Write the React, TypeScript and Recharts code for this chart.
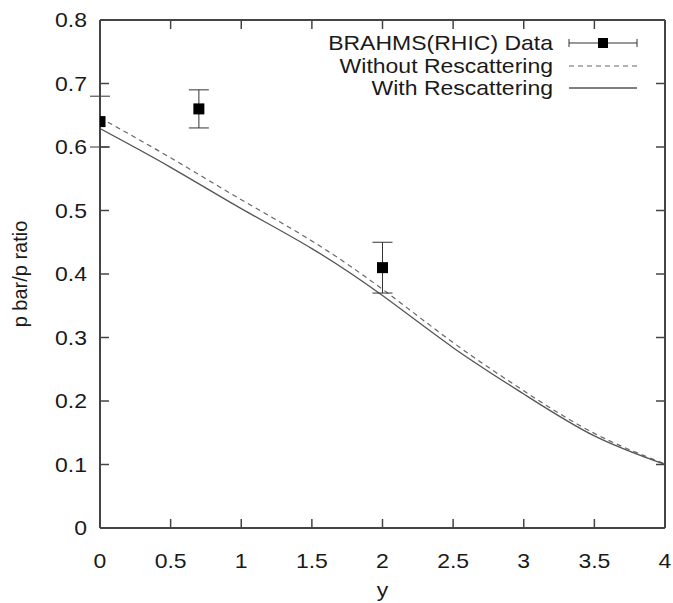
import React from "react";
import { ComposedChart, Line, Scatter, ErrorBar, XAxis, YAxis, Legend } from "recharts";

const xTicks = [0, 0.5, 1, 1.5, 2, 2.5, 3, 3.5, 4];
const yTicks = [0, 0.1, 0.2, 0.3, 0.4, 0.5, 0.6, 0.7, 0.8];

const curveY = [0, 0.5, 1, 1.5, 2, 2.5, 3, 3.5, 4];
const withoutRescattering = [0.646, 0.583, 0.517, 0.452, 0.376, 0.292, 0.216, 0.149, 0.101];
const withRescattering = [0.629, 0.568, 0.503, 0.44, 0.366, 0.284, 0.211, 0.145, 0.1];

// BRAHMS points with their errors
const brahmsY = [0, 0.7, 2];
const brahmsRatio = [0.64, 0.66, 0.41];
const brahmsErr = [0.04, 0.03, 0.04];

const withoutData = curveY.map((x, i) => ({ x, v: withoutRescattering[i] }));
const withData = curveY.map((x, i) => ({ x, v: withRescattering[i] }));
const brahmsData = brahmsY.map((x, i) => ({ x, v: brahmsRatio[i], err: brahmsErr[i] }));

const FRAME = "#444";
const INK = "#1a1a1a";
const FONT = "'Liberation Sans', Arial, sans-serif";
const SX = 1.15;
const TICK = 9;

const SText = ({ x, y, anchor, children, size = 20 }: any) => (
  <text
    transform={`translate(${x},${y}) scale(${SX},1)`}
    textAnchor={anchor}
    fontFamily={FONT}
    fontSize={size}
    fill={INK}
  >
    {children}
  </text>
);

const BottomTick = ({ x, y, payload }: any) => (
  <g>
    <line x1={x} y1={y} x2={x} y2={y - TICK} stroke={FRAME} strokeWidth={1.5} />
    <SText x={x} y={y + 40} anchor="middle">{String(payload.value)}</SText>
  </g>
);

const TopTick = ({ x, y }: any) => (
  <line x1={x} y1={y} x2={x} y2={y + TICK} stroke={FRAME} strokeWidth={1.5} />
);

const LeftTick = ({ x, y, payload }: any) => (
  <g>
    <line x1={x} y1={y} x2={x + TICK} y2={y} stroke={FRAME} strokeWidth={1.5} />
    <SText x={x - 13} y={y + 7} anchor="end">{String(payload.value)}</SText>
  </g>
);

const RightTick = ({ x, y }: any) => (
  <line x1={x} y1={y} x2={x - TICK} y2={y} stroke={FRAME} strokeWidth={1.5} />
);

const Square = ({ cx, cy }: any) => (
  <rect x={cx - 5.5} y={cy - 5.5} width={11} height={11} fill="#000" />
);

const KeyBox = () => {
  const tx = 553;
  const x1 = 569;
  const x2 = 637;
  const rows = [43, 66, 88];
  return (
    <svg width={673} height={110} style={{ display: "block" }}>
      <SText x={tx} y={rows[0] + 7} anchor="end">BRAHMS(RHIC) Data</SText>
      <SText x={tx} y={rows[1] + 7} anchor="end">Without Rescattering</SText>
      <SText x={tx} y={rows[2] + 7} anchor="end">With Rescattering</SText>
      <line x1={x1} y1={rows[0]} x2={x2} y2={rows[0]} stroke="#333" strokeWidth={1} />
      <line x1={x1} y1={rows[0] - 4} x2={x1} y2={rows[0] + 4} stroke="#333" strokeWidth={1} />
      <line x1={x2} y1={rows[0] - 4} x2={x2} y2={rows[0] + 4} stroke="#333" strokeWidth={1} />
      <rect x={(x1 + x2) / 2 - 5} y={rows[0] - 5} width={10} height={10} fill="#000" />
      <line x1={x1} y1={rows[1]} x2={x2} y2={rows[1]} stroke="#666" strokeWidth={1.2} strokeDasharray="5 4" />
      <line x1={x1} y1={rows[2]} x2={x2} y2={rows[2]} stroke="#555" strokeWidth={1.3} />
    </svg>
  );
};

const YLabel = ({ viewBox }: any) => {
  const cx = viewBox.x + 27;
  const cy = viewBox.y + viewBox.height / 2;
  return (
    <text
      transform={`translate(${cx},${cy}) rotate(-90)`}
      textAnchor="middle"
      fontFamily={FONT}
      fontSize={20}
      fill={INK}
    >
      p bar/p ratio
    </text>
  );
};

const XLabel = ({ viewBox }: any) => (
  <SText x={viewBox.x + viewBox.width / 2} y={viewBox.y + 69} anchor="middle">y</SText>
);

export default function App() {
  return (
    <div style={{ position: "absolute", left: 0, top: 0, background: "#fff" }}>
      <ComposedChart width={673} height={603} margin={{ top: 0, right: 0, bottom: 0, left: 0 }}>
        <XAxis
          xAxisId="b"
          type="number"
          dataKey="x"
          domain={[0, 4]}
          ticks={xTicks}
          interval={0}
          height={75}
          tickSize={0}
          tickMargin={0}
          tickLine={false}
          tick={<BottomTick />}
          axisLine={{ stroke: FRAME, strokeWidth: 2 }}
          allowDataOverflow
          label={<XLabel />}
        />
        <XAxis
          xAxisId="t"
          orientation="top"
          type="number"
          dataKey="x"
          domain={[0, 4]}
          ticks={xTicks}
          interval={0}
          height={20}
          tickSize={0}
          tickMargin={0}
          tickLine={false}
          tick={<TopTick />}
          axisLine={{ stroke: FRAME, strokeWidth: 2 }}
          allowDataOverflow
        />
        <YAxis
          yAxisId="l"
          type="number"
          domain={[0, 0.8]}
          ticks={yTicks}
          interval={0}
          width={100}
          tickSize={0}
          tickMargin={0}
          tickLine={false}
          tick={<LeftTick />}
          axisLine={{ stroke: FRAME, strokeWidth: 2 }}
          allowDataOverflow
          label={<YLabel />}
        />
        <YAxis
          yAxisId="r"
          orientation="right"
          type="number"
          domain={[0, 0.8]}
          ticks={yTicks}
          interval={0}
          width={8}
          tickSize={0}
          tickMargin={0}
          tickLine={false}
          tick={<RightTick />}
          axisLine={{ stroke: FRAME, strokeWidth: 2 }}
          allowDataOverflow
        />
        <Line
          xAxisId="b"
          yAxisId="l"
          data={withoutData}
          dataKey="v"
          type="natural"
          stroke="#666"
          strokeWidth={1.2}
          strokeDasharray="5 4"
          dot={false}
          isAnimationActive={false}
        />
        <Line
          xAxisId="b"
          yAxisId="l"
          data={withData}
          dataKey="v"
          type="natural"
          stroke="#555"
          strokeWidth={1.3}
          dot={false}
          isAnimationActive={false}
        />
        <Scatter
          xAxisId="b"
          yAxisId="l"
          data={brahmsData}
          dataKey="v"
          shape={<Square />}
          isAnimationActive={false}
        >
          <ErrorBar dataKey="err" direction="y" width={10} stroke="#333" strokeWidth={1} isAnimationActive={false} />
        </Scatter>
        <Legend
          layout="horizontal"
          verticalAlign="middle"
          align="center"
          wrapperStyle={{ position: "absolute", top: 0, left: 0, width: 673, height: 110 }}
          content={<KeyBox />}
        />
      </ComposedChart>
    </div>
  );
}
